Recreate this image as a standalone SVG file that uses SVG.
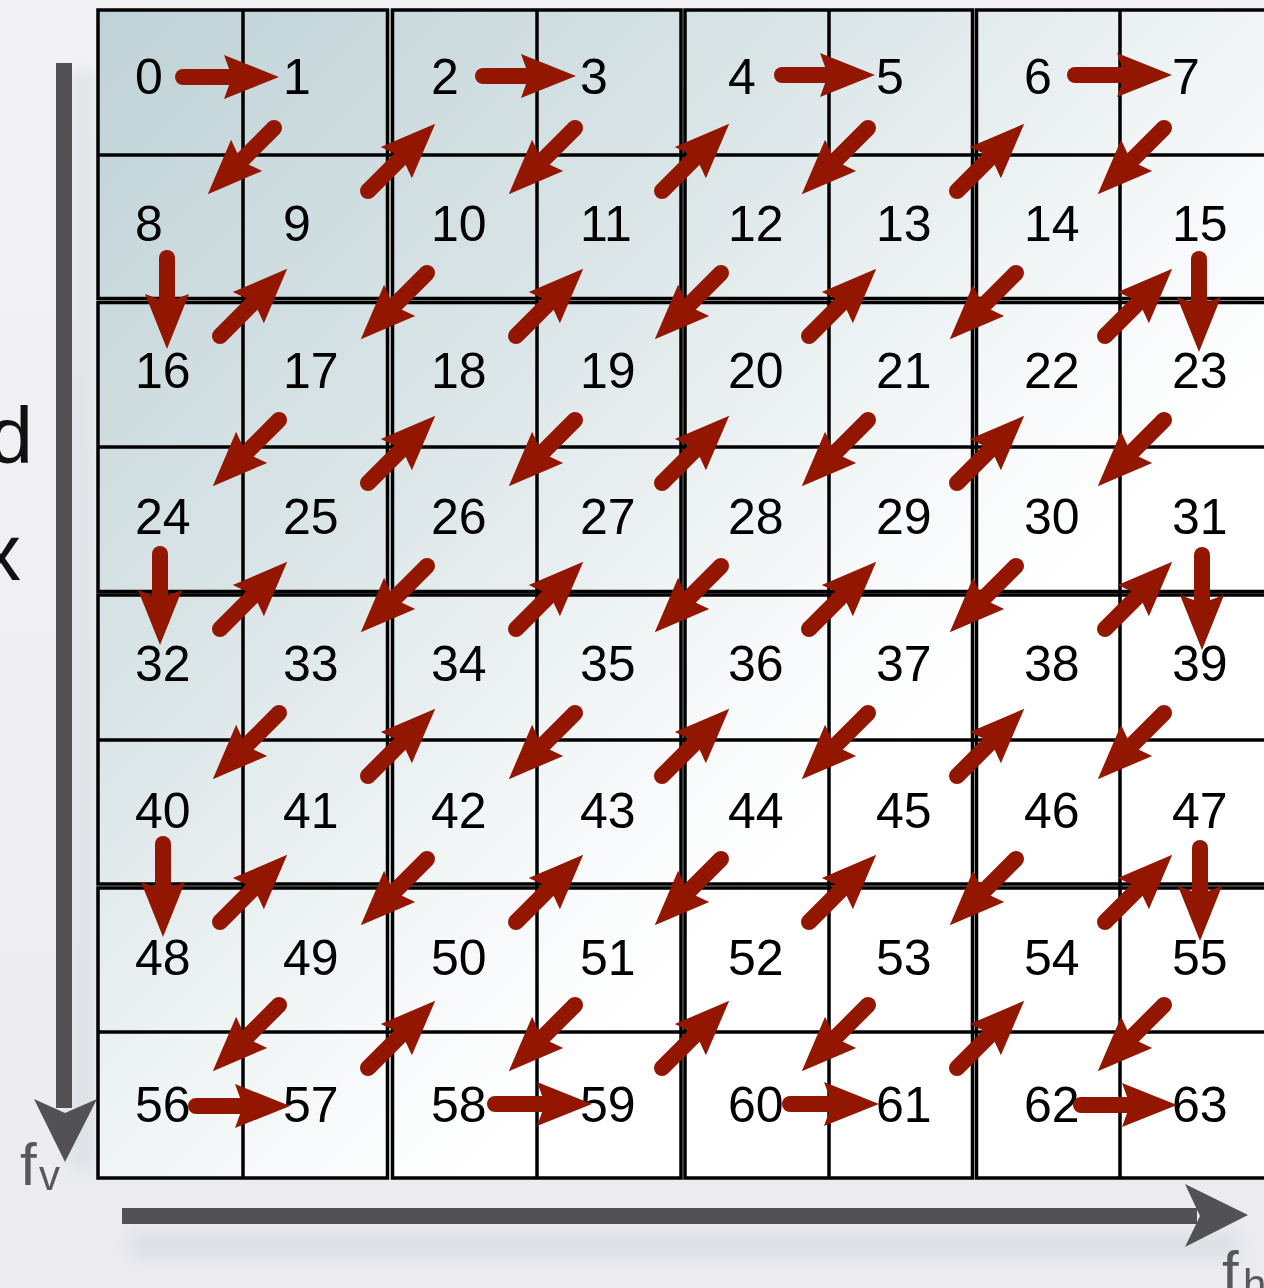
<svg xmlns="http://www.w3.org/2000/svg" width="1264" height="1288" viewBox="0 0 1264 1288">
<defs>
<linearGradient id="bg" x1="0" y1="0" x2="0" y2="1">
<stop offset="0" stop-color="#f3f3f5"/>
<stop offset="1" stop-color="#ececf0"/>
</linearGradient>
<linearGradient id="grid" x1="0" y1="0" x2="1" y2="1">
<stop offset="0" stop-color="#bfd2d7"/>
<stop offset="0.3" stop-color="#d9e4e6"/>
<stop offset="0.52" stop-color="#f3f6f7"/>
<stop offset="0.66" stop-color="#ffffff"/>
<stop offset="1" stop-color="#ffffff"/>
</linearGradient>
<filter id="blur" x="-50%" y="-50%" width="200%" height="200%">
<feGaussianBlur stdDeviation="8"/>
</filter>
<marker id="ah" markerUnits="userSpaceOnUse" markerWidth="60" markerHeight="50" refX="8" refY="0" orient="auto" style="overflow:visible">
<path d="M0,-22 L55,0 L0,22 L8,0 Z" fill="#931600"/>
</marker>
<style>
.blk{fill:none;stroke:#000;stroke-width:3.5}
.cl{stroke:#000;stroke-width:3.5}
.num{font-family:'Liberation Sans',Arial,sans-serif;font-size:50px;fill:#000}
.ax{fill:#525254}
.axl{font-family:'Liberation Sans',Arial,sans-serif;fill:#58585a}
.arr line{stroke:#931600;stroke-width:16;stroke-linecap:round;marker-end:url(#ah)}
</style>
</defs>
<rect x="0" y="0" width="1264" height="1288" fill="url(#bg)"/>
<g id="shadows" opacity="0.55">
<rect x="70" y="70" width="26" height="1100" fill="#cfd9dc" filter="url(#blur)"/>
<rect x="130" y="1232" width="1110" height="26" fill="#cfd6da" filter="url(#blur)"/>
</g>
<text x="33" y="463" text-anchor="end" style="font-family:'Liberation Sans',Arial,sans-serif;font-size:80px;fill:#111">d</text>
<text x="21" y="580" text-anchor="end" style="font-family:'Liberation Sans',Arial,sans-serif;font-size:80px;fill:#111">x</text>
<g id="axis-v">
<rect class="ax" x="56" y="63" width="16" height="1045"/>
<path class="ax" d="M34,1099 L65,1113 L97,1099 L65,1162 Z"/>
<text class="axl" x="20" y="1185" style="font-size:60px">f</text>
<text class="axl" x="39" y="1190" style="font-size:42px">v</text>
</g>
<g id="axis-h">
<rect class="ax" x="122" y="1208" width="1075" height="16"/>
<path class="ax" d="M1185,1184 L1200,1216 L1185,1247 L1248,1215 Z"/>
<text class="axl" x="1222" y="1293" style="font-size:60px">f</text>
<text class="axl" x="1243" y="1299" style="font-size:42px">h</text>
</g>
<g id="grid">
<rect x="98" y="10" width="1170" height="1168" fill="url(#grid)"/>
<g id="blocks">
<rect class="blk" x="98" y="10" width="289.5" height="288.5"/>
<rect class="blk" x="392.5" y="10" width="288.5" height="288.5"/>
<rect class="blk" x="685" y="10" width="287.5" height="288.5"/>
<rect class="blk" x="976.5" y="10" width="291.5" height="288.5"/>
<rect class="blk" x="98" y="302.5" width="289.5" height="289"/>
<rect class="blk" x="392.5" y="302.5" width="288.5" height="289"/>
<rect class="blk" x="685" y="302.5" width="287.5" height="289"/>
<rect class="blk" x="976.5" y="302.5" width="291.5" height="289"/>
<rect class="blk" x="98" y="595" width="289.5" height="289"/>
<rect class="blk" x="392.5" y="595" width="288.5" height="289"/>
<rect class="blk" x="685" y="595" width="287.5" height="289"/>
<rect class="blk" x="976.5" y="595" width="291.5" height="289"/>
<rect class="blk" x="98" y="888" width="289.5" height="290"/>
<rect class="blk" x="392.5" y="888" width="288.5" height="290"/>
<rect class="blk" x="685" y="888" width="287.5" height="290"/>
<rect class="blk" x="976.5" y="888" width="291.5" height="290"/>
</g>
<g id="cell-lines">
<line class="cl" x1="243" y1="10" x2="243" y2="1178"/>
<line class="cl" x1="537" y1="10" x2="537" y2="1178"/>
<line class="cl" x1="829" y1="10" x2="829" y2="1178"/>
<line class="cl" x1="1120" y1="10" x2="1120" y2="1178"/>
<line class="cl" x1="98" y1="155" x2="1264" y2="155"/>
<line class="cl" x1="98" y1="447" x2="1264" y2="447"/>
<line class="cl" x1="98" y1="740" x2="1264" y2="740"/>
<line class="cl" x1="98" y1="1032" x2="1264" y2="1032"/>
</g>
</g>
<g id="nodes" class="num">
<g id="n0"><text x="135" y="94">0</text></g>
<g id="n1"><text x="283" y="94">1</text></g>
<g id="n2"><text x="431" y="94">2</text></g>
<g id="n3"><text x="580" y="94">3</text></g>
<g id="n4"><text x="728" y="94">4</text></g>
<g id="n5"><text x="876" y="94">5</text></g>
<g id="n6"><text x="1024" y="94">6</text></g>
<g id="n7"><text x="1172" y="94">7</text></g>
<g id="n8"><text x="135" y="241">8</text></g>
<g id="n9"><text x="283" y="241">9</text></g>
<g id="n10"><text x="431" y="241">10</text></g>
<g id="n11"><text x="580" y="241">11</text></g>
<g id="n12"><text x="728" y="241">12</text></g>
<g id="n13"><text x="876" y="241">13</text></g>
<g id="n14"><text x="1024" y="241">14</text></g>
<g id="n15"><text x="1172" y="241">15</text></g>
<g id="n16"><text x="135" y="388">16</text></g>
<g id="n17"><text x="283" y="388">17</text></g>
<g id="n18"><text x="431" y="388">18</text></g>
<g id="n19"><text x="580" y="388">19</text></g>
<g id="n20"><text x="728" y="388">20</text></g>
<g id="n21"><text x="876" y="388">21</text></g>
<g id="n22"><text x="1024" y="388">22</text></g>
<g id="n23"><text x="1172" y="388">23</text></g>
<g id="n24"><text x="135" y="534">24</text></g>
<g id="n25"><text x="283" y="534">25</text></g>
<g id="n26"><text x="431" y="534">26</text></g>
<g id="n27"><text x="580" y="534">27</text></g>
<g id="n28"><text x="728" y="534">28</text></g>
<g id="n29"><text x="876" y="534">29</text></g>
<g id="n30"><text x="1024" y="534">30</text></g>
<g id="n31"><text x="1172" y="534">31</text></g>
<g id="n32"><text x="135" y="681">32</text></g>
<g id="n33"><text x="283" y="681">33</text></g>
<g id="n34"><text x="431" y="681">34</text></g>
<g id="n35"><text x="580" y="681">35</text></g>
<g id="n36"><text x="728" y="681">36</text></g>
<g id="n37"><text x="876" y="681">37</text></g>
<g id="n38"><text x="1024" y="681">38</text></g>
<g id="n39"><text x="1172" y="681">39</text></g>
<g id="n40"><text x="135" y="828">40</text></g>
<g id="n41"><text x="283" y="828">41</text></g>
<g id="n42"><text x="431" y="828">42</text></g>
<g id="n43"><text x="580" y="828">43</text></g>
<g id="n44"><text x="728" y="828">44</text></g>
<g id="n45"><text x="876" y="828">45</text></g>
<g id="n46"><text x="1024" y="828">46</text></g>
<g id="n47"><text x="1172" y="828">47</text></g>
<g id="n48"><text x="135" y="975">48</text></g>
<g id="n49"><text x="283" y="975">49</text></g>
<g id="n50"><text x="431" y="975">50</text></g>
<g id="n51"><text x="580" y="975">51</text></g>
<g id="n52"><text x="728" y="975">52</text></g>
<g id="n53"><text x="876" y="975">53</text></g>
<g id="n54"><text x="1024" y="975">54</text></g>
<g id="n55"><text x="1172" y="975">55</text></g>
<g id="n56"><text x="135" y="1122">56</text></g>
<g id="n57"><text x="283" y="1122">57</text></g>
<g id="n58"><text x="431" y="1122">58</text></g>
<g id="n59"><text x="580" y="1122">59</text></g>
<g id="n60"><text x="728" y="1122">60</text></g>
<g id="n61"><text x="876" y="1122">61</text></g>
<g id="n62"><text x="1024" y="1122">62</text></g>
<g id="n63"><text x="1172" y="1122">63</text></g>
</g>
<g id="connectors" class="arr">
<line x1="183" y1="77" x2="232" y2="77"/>
<line x1="274" y1="128" x2="241" y2="161"/>
<line x1="167" y1="258" x2="167" y2="302"/>
<line x1="220" y1="336" x2="254" y2="302"/>
<line x1="368" y1="191" x2="402" y2="157"/>
<line x1="483" y1="76" x2="529" y2="76"/>
<line x1="575" y1="128" x2="542" y2="161"/>
<line x1="427" y1="273" x2="394" y2="306"/>
<line x1="279" y1="420" x2="246" y2="453"/>
<line x1="160" y1="554" x2="160" y2="598"/>
<line x1="220" y1="629" x2="254" y2="595"/>
<line x1="368" y1="483" x2="402" y2="449"/>
<line x1="516" y1="336" x2="550" y2="302"/>
<line x1="662" y1="191" x2="696" y2="157"/>
<line x1="782" y1="75" x2="828" y2="75"/>
<line x1="868" y1="128" x2="835" y2="161"/>
<line x1="721" y1="273" x2="688" y2="306"/>
<line x1="575" y1="420" x2="542" y2="453"/>
<line x1="427" y1="566" x2="394" y2="599"/>
<line x1="279" y1="713" x2="246" y2="746"/>
<line x1="163" y1="844" x2="163" y2="890"/>
<line x1="220" y1="922" x2="254" y2="888"/>
<line x1="368" y1="776" x2="402" y2="742"/>
<line x1="516" y1="629" x2="550" y2="595"/>
<line x1="662" y1="483" x2="696" y2="449"/>
<line x1="809" y1="336" x2="843" y2="302"/>
<line x1="957" y1="191" x2="991" y2="157"/>
<line x1="1075" y1="75" x2="1125" y2="75"/>
<line x1="1164" y1="128" x2="1131" y2="161"/>
<line x1="1016" y1="273" x2="983" y2="306"/>
<line x1="868" y1="420" x2="835" y2="453"/>
<line x1="721" y1="566" x2="688" y2="599"/>
<line x1="575" y1="713" x2="542" y2="746"/>
<line x1="427" y1="859" x2="394" y2="892"/>
<line x1="279" y1="1005" x2="246" y2="1038"/>
<line x1="196" y1="1106" x2="243" y2="1106"/>
<line x1="368" y1="1068" x2="402" y2="1034"/>
<line x1="516" y1="922" x2="550" y2="888"/>
<line x1="662" y1="776" x2="696" y2="742"/>
<line x1="809" y1="629" x2="843" y2="595"/>
<line x1="957" y1="483" x2="991" y2="449"/>
<line x1="1105" y1="336" x2="1139" y2="302"/>
<line x1="1199" y1="259" x2="1199" y2="305"/>
<line x1="1164" y1="420" x2="1131" y2="453"/>
<line x1="1016" y1="566" x2="983" y2="599"/>
<line x1="868" y1="713" x2="835" y2="746"/>
<line x1="721" y1="859" x2="688" y2="892"/>
<line x1="575" y1="1005" x2="542" y2="1038"/>
<line x1="495" y1="1104" x2="545" y2="1104"/>
<line x1="662" y1="1068" x2="696" y2="1034"/>
<line x1="809" y1="922" x2="843" y2="888"/>
<line x1="957" y1="776" x2="991" y2="742"/>
<line x1="1105" y1="629" x2="1139" y2="595"/>
<line x1="1202" y1="555" x2="1202" y2="603"/>
<line x1="1164" y1="713" x2="1131" y2="746"/>
<line x1="1016" y1="859" x2="983" y2="892"/>
<line x1="868" y1="1005" x2="835" y2="1038"/>
<line x1="790" y1="1104" x2="832" y2="1104"/>
<line x1="957" y1="1068" x2="991" y2="1034"/>
<line x1="1105" y1="922" x2="1139" y2="888"/>
<line x1="1200" y1="848" x2="1200" y2="894"/>
<line x1="1164" y1="1005" x2="1131" y2="1038"/>
<line x1="1081" y1="1105" x2="1130" y2="1105"/>
</g>
</svg>
